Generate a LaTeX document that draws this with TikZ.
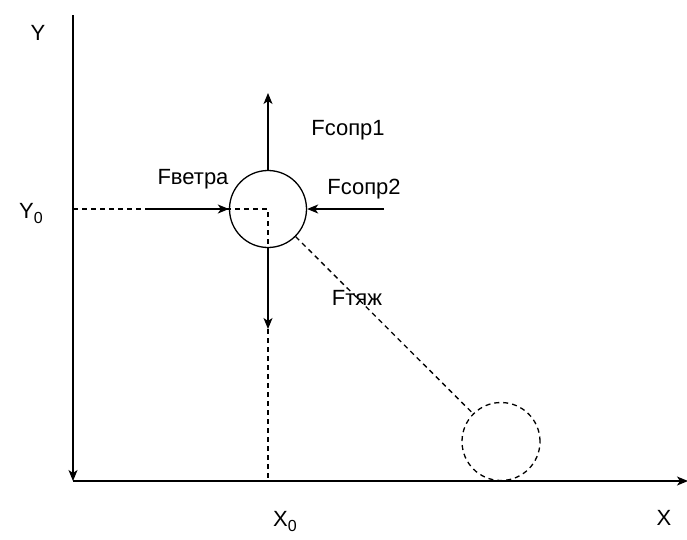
\documentclass[tikz,border=0pt]{standalone}
\usepackage{fontspec}
\setmainfont{Liberation Sans}
\usetikzlibrary{arrows.meta}
\newcommand{\subzero}{\raisebox{-5pt}{\fontsize{16}{16}\selectfont 0}}
\begin{document}
\begin{tikzpicture}[x=1pt,y=-1pt,
  ln/.style={line width=1.3pt},
  arr/.style={line width=1.3pt,-{Stealth[length=11pt,width=9pt,inset=3pt]}},
  dsh/.style={line width=1.3pt,dash pattern=on 5pt off 4pt},
  lbl/.style={font=\fontsize{22}{26}\selectfont,inner sep=0pt},
  ballstyle/.style={circle,draw,line width=1.3pt,minimum size=77pt,inner sep=0pt},
  ghoststyle/.style={circle,draw,dsh,minimum size=78pt,inner sep=0pt}]
\useasboundingbox (0,0) rectangle (687,539);
% axes
\coordinate (O) at (73,481);
\coordinate (Ytop) at (73,15);
\coordinate (Xend) at (688,481);
\draw[arr] (Ytop) -- (O);
\draw[arr] (O) -- (Xend);
\node[lbl] (ylab) at (38,33) {Y};
\node[lbl] (xlab) at (664,518) {X};
% ball
\node[ballstyle] (ball) at (268,209) {};
\node[ghoststyle] (ghost) at (501,441.5) {};
% dashed guides
\coordinate (Yzero) at (73,209);
\coordinate (Xzero) at (268,481);
\draw[dsh] (Yzero) -- (ball.center) -- (Xzero);
\draw[dsh] (ball) -- (ghost);
\node[lbl] (y0lab) at (31,214) {Y\subzero};
\node[lbl] (x0lab) at (285,521) {X\subzero};
% forces
\coordinate (upTip) at (268,93);
\coordinate (downTip) at (268,329);
\coordinate (windStart) at (145,209);
\coordinate (c2Start) at (384,209);
\draw[arr] (ball.north) -- (upTip);
\draw[arr] (ball.south) -- (downTip);
\draw[arr] (windStart) -- (ball.west);
\draw[arr] (c2Start) -- (ball.east);
\node[lbl] (fc1) at (348,130) {Fсопр1};
\node[lbl] (fc2) at (364,189) {Fсопр2};
\node[lbl] (fw) at (193,179) {Fветра};
\node[lbl] (ft) at (357,298) {Fтяж};
\end{tikzpicture}
\end{document}
